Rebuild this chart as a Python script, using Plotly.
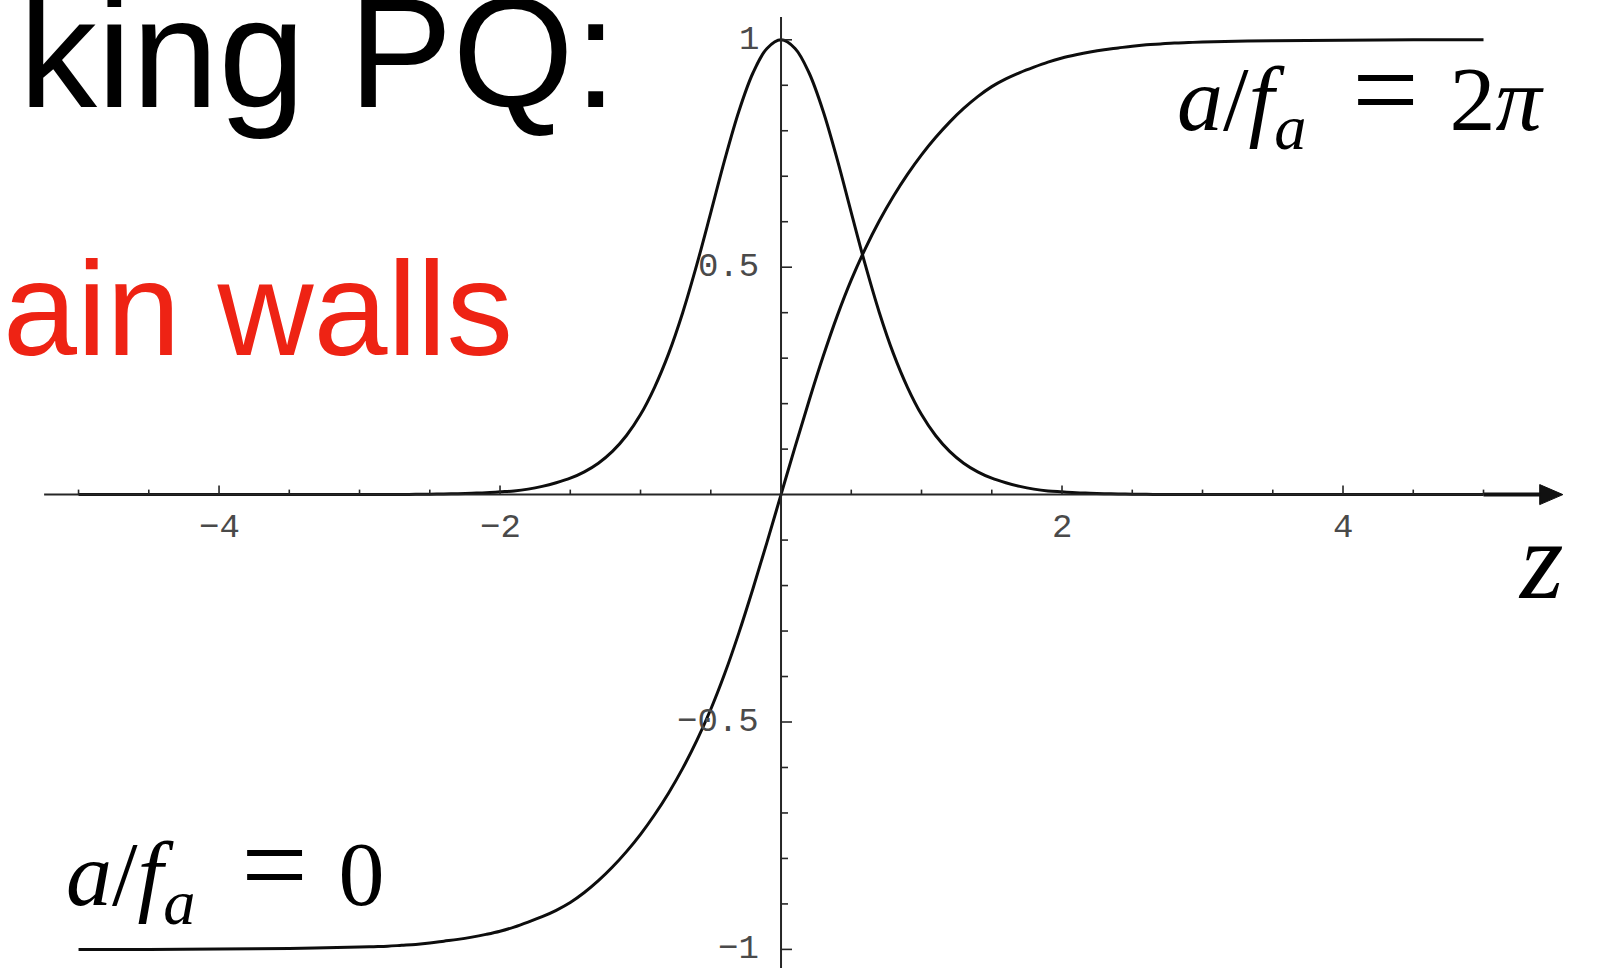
import plotly.graph_objects as go

W, H = 1599, 968

# Kink profile a(z), rescaled to run from -1 to 1
z_kink = [-5, -4.5, -4, -3.5,
          -3.0, -2.9, -2.8, -2.7, -2.6, -2.5, -2.4, -2.3, -2.2, -2.1,
          -2.0, -1.9, -1.8, -1.7, -1.6, -1.5, -1.4, -1.3, -1.2, -1.1,
          -1.0, -0.9, -0.8, -0.7, -0.6, -0.5, -0.4, -0.3, -0.2, -0.1,
          0.0, 0.1, 0.2, 0.3, 0.4, 0.5, 0.6, 0.7, 0.8, 0.9,
          1.0, 1.1, 1.2, 1.3, 1.4, 1.5, 1.6, 1.7, 1.8, 1.9,
          2.0, 2.1, 2.2, 2.3, 2.4, 2.5, 2.6, 2.7, 2.8, 2.9,
          3.0, 3.5, 4, 4.5, 5]
a_kink = [-1.0, -1.0, -0.999, -0.998,
          -0.995, -0.994, -0.993, -0.991, -0.989, -0.986, -0.982, -0.978, -0.973, -0.967,
          -0.96, -0.951, -0.94, -0.928, -0.914, -0.897, -0.875, -0.849, -0.819, -0.785,
          -0.747, -0.704, -0.656, -0.602, -0.541, -0.472, -0.393, -0.304, -0.207, -0.105,
          0.0, 0.105, 0.207, 0.304, 0.393, 0.472, 0.541, 0.602, 0.656, 0.704,
          0.747, 0.785, 0.819, 0.849, 0.875, 0.897, 0.914, 0.928, 0.94, 0.951,
          0.96, 0.967, 0.973, 0.978, 0.982, 0.986, 0.989, 0.991, 0.993, 0.994,
          0.995, 0.998, 0.999, 1.0, 1.0]

# Localized bump carried by the wall, normalized to 1 at the center
z_bump = [-5, -4.5, -4, -3.5,
          -3.0, -2.9, -2.8, -2.7, -2.6, -2.5, -2.4, -2.3, -2.2, -2.1,
          -2.0, -1.9, -1.8, -1.7, -1.6, -1.5, -1.4, -1.3, -1.2, -1.1,
          -1.0, -0.9, -0.8, -0.7, -0.6, -0.5, -0.4, -0.3, -0.2, -0.1,
          0.0, 0.1, 0.2, 0.3, 0.4, 0.5, 0.6, 0.7, 0.8, 0.9,
          1.0, 1.1, 1.2, 1.3, 1.4, 1.5, 1.6, 1.7, 1.8, 1.9,
          2.0, 2.1, 2.2, 2.3, 2.4, 2.5, 2.6, 2.7, 2.8, 2.9,
          3.0, 3.5, 4, 4.5, 5]
e_bump = [0.0, 0.0, 0.0, 0.0,
          0.0, 0.0, 0.0, 0.0, 0.0005, 0.001, 0.0015, 0.002, 0.003, 0.004,
          0.006, 0.008, 0.012, 0.018, 0.026, 0.036, 0.05, 0.069, 0.095, 0.13,
          0.176, 0.236, 0.31, 0.4, 0.505, 0.62, 0.737, 0.843, 0.927, 0.981,
          1.0, 0.981, 0.927, 0.843, 0.737, 0.62, 0.505, 0.4, 0.31, 0.236,
          0.176, 0.13, 0.095, 0.069, 0.05, 0.036, 0.026, 0.018, 0.012, 0.008,
          0.006, 0.004, 0.003, 0.002, 0.0015, 0.001, 0.0005, 0.0, 0.0, 0.0,
          0.0, 0.0, 0.0, 0.0, 0.0]

# Axis ticks and labels
x_ticks = [-5, -4.5, -4, -3.5, -3, -2.5, -2, -1.5, -1, -0.5, 0.5, 1, 1.5, 2, 2.5, 3, 3.5, 4, 4.5, 5]
x_major = [-4, -2, 2, 4]
x_labels = ["−4", "−2", "2", "4"]
y_ticks = [-1, -0.9, -0.8, -0.7, -0.6, -0.5, -0.4, -0.3, -0.2, -0.1,
           0.1, 0.2, 0.3, 0.4, 0.5, 0.6, 0.7, 0.8, 0.9, 1]
y_major = [-1, -0.5, 0.5, 1]
y_labels = ["−1", "−0.5", "0.5", "1"]

# Data window: the whole canvas is the plotting area
X0, X1 = -5.559, 5.822
Y0, Y1 = -1.0409, 1.0875
PX = W / (X1 - X0)   # pixels per unit in z
PY = H / (Y1 - Y0)   # pixels per unit in a

AX = "#262626"
LBL = "#4a4a4a"
CURVE = dict(color="#0d0d0d", width=3, shape="spline", smoothing=1)

fig = go.Figure()
fig.add_trace(go.Scatter(x=z_bump, y=e_bump, mode="lines", line=CURVE, hoverinfo="skip"))
fig.add_trace(go.Scatter(x=z_kink, y=a_kink, mode="lines", line=CURVE, hoverinfo="skip"))

shapes = []
# horizontal axis with arrow
shapes.append(dict(type="line", x0=-5.245, x1=5.0, y0=0, y1=0, line=dict(color=AX, width=2)))
shapes.append(dict(type="line", x0=5.0, x1=5.45, y0=0, y1=0, line=dict(color="#111111", width=4)))
ah = 10 / PY
shapes.append(dict(type="path", path=f"M 5.40,{ah} L 5.565,0 L 5.40,{-ah} Z",
                   fillcolor="#111111", line=dict(color="#111111", width=1)))
# vertical axis
shapes.append(dict(type="line", x0=0, x1=0, y0=1.05, y1=-1.06, line=dict(color=AX, width=2)))

for t in x_ticks:
    ln = (9 if t in x_major else 5) / PY
    shapes.append(dict(type="line", x0=t, x1=t, y0=0, y1=ln, line=dict(color=AX, width=1.6)))
for t in y_ticks:
    ln = (11 if t in y_major else 7) / PX
    shapes.append(dict(type="line", x0=0, x1=ln, y0=t, y1=t, line=dict(color=AX, width=1.6)))

ann = []
for t, s in zip(x_major, x_labels):
    ann.append(dict(x=t, y=-33 / PY, text=s, showarrow=False, xanchor="center", yanchor="middle",
                    font=dict(family="Liberation Mono", size=34, color=LBL)))
for t, s in zip(y_major, y_labels):
    ann.append(dict(x=-20 / PX, y=t, text=s, showarrow=False, xanchor="right", yanchor="middle",
                    font=dict(family="Liberation Mono", size=34, color=LBL)))


def px(x):
    return x / W


def py(y):
    return 1 - y / H


MATH = dict(family="Liberation Serif", size=92, color="#000")
EQ = "\u2002<span style='font-size:118px'>=</span>\u2004"

ann.append(dict(xref="paper", yref="paper", x=px(1541), y=py(560), text="<i>z</i>", showarrow=False,
                xanchor="center", yanchor="middle", font=dict(family="Liberation Serif", size=112, color="#000")))
ann.append(dict(xref="paper", yref="paper", x=px(1175), y=py(94), showarrow=False,
                text="<i>a</i>/<i>f</i><sub><i>a</i></sub>" + EQ + "2<i>π</i>",
                xanchor="left", yanchor="middle", font=MATH))
ann.append(dict(xref="paper", yref="paper", x=px(64), y=py(869), showarrow=False,
                text="<i>a</i>/<i>f</i><sub><i>a</i></sub>" + EQ + "0",
                xanchor="left", yanchor="middle", font=MATH))

# slide heading fragments
ann.append(dict(xref="paper", yref="paper", x=px(18), y=py(53), text="king PQ:", showarrow=False,
                xanchor="left", yanchor="middle", borderpad=0,
                font=dict(family="Liberation Sans", size=156, color="#000")))
ann.append(dict(xref="paper", yref="paper", x=px(2), y=py(309), text="ain walls", showarrow=False,
                xanchor="left", yanchor="middle", borderpad=0,
                font=dict(family="Liberation Sans", size=133, color="#EE2314")))

fig.update_layout(
    width=W, height=H, margin=dict(l=0, r=0, t=0, b=0),
    paper_bgcolor="white", plot_bgcolor="white", showlegend=False,
    xaxis=dict(range=[X0, X1], visible=False, fixedrange=True),
    yaxis=dict(range=[Y0, Y1], visible=False, fixedrange=True),
    shapes=shapes, annotations=ann,
)

fig.write_html("out.html", config={"displayModeBar": False})
